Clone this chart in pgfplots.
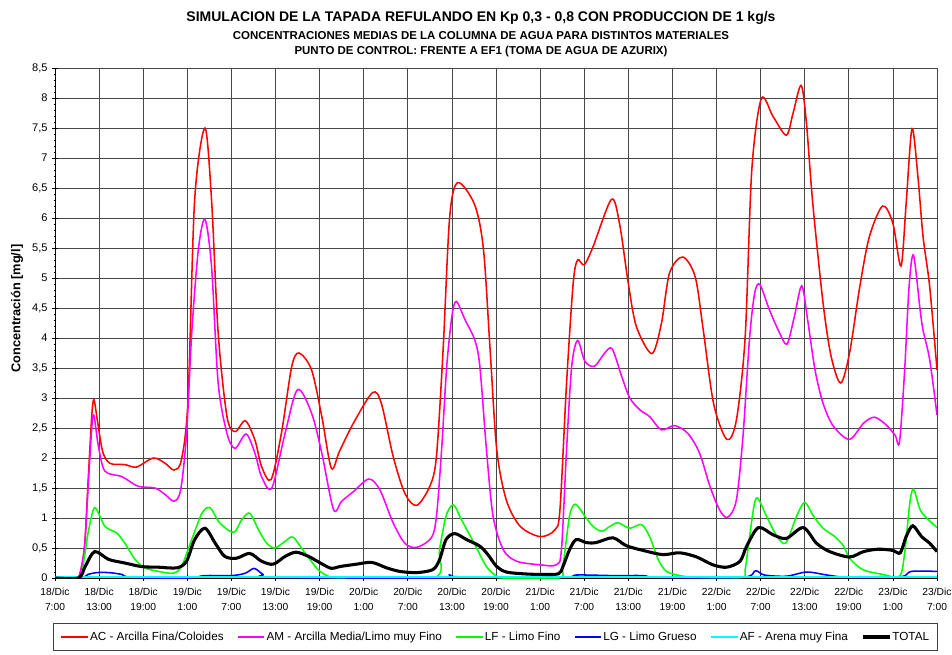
\documentclass[border=0pt]{standalone}
\usepackage{fontspec}
\setmainfont{Liberation Sans}
\usepackage{pgfplots}
\pgfplotsset{compat=1.18}
\definecolor{cAC}{RGB}{255,0,0}
\definecolor{cAM}{RGB}{255,0,255}
\definecolor{cLF}{RGB}{0,255,0}
\definecolor{cLG}{RGB}{0,0,255}
\definecolor{cAF}{RGB}{0,255,255}
\begin{document}
\begin{tikzpicture}
\useasboundingbox (0,0) rectangle (714pt,490.5pt);
\begin{axis}[
  at={(41.25pt,57pt)}, anchor=south west,
  scale only axis, width=661.5pt, height=382.5pt,
  xmin=0, xmax=120, ymin=0, ymax=8.5,
  axis x line*=bottom, axis y line*=left,
  axis line style={-, black, line width=0.6pt},
  xtick={0,6,...,120},
  ytick={0,0.5,1,1.5,2,2.5,3,3.5,4,4.5,5,5.5,6,6.5,7,7.5,8,8.5},
  minor x tick num=5, minor y tick num=4,
  tick align=center, major tick length=4pt, minor tick length=2pt,
  tick style={black, line width=0.5pt},
  grid=major, grid style={black!72, line width=0.6pt},
  xticklabels={{18/Dic\\7:00},{18/Dic\\13:00},{18/Dic\\19:00},{19/Dic\\1:00},{19/Dic\\7:00},{19/Dic\\13:00},{19/Dic\\19:00},{20/Dic\\1:00},{20/Dic\\7:00},{20/Dic\\13:00},{20/Dic\\19:00},{21/Dic\\1:00},{21/Dic\\7:00},{21/Dic\\13:00},{21/Dic\\19:00},{22/Dic\\1:00},{22/Dic\\7:00},{22/Dic\\13:00},{22/Dic\\19:00},{23/Dic\\1:00},{23/Dic\\7:00}},
  xticklabel style={align=center, font=\fontsize{7.7}{11}\selectfont, yshift=-2pt},
  yticklabel style={font=\fontsize{8.3}{10}\selectfont},
  /pgf/number format/.cd, use comma, assume math mode=true, /pgfplots/.cd,
  every axis y label/.style={at={(axis description cs:-0.0431,0.528)}, anchor=center, rotate=90},
  ylabel={\bfseries Concentración [mg/l]},
  ylabel style={font=\fontsize{9.6}{11}\selectfont},
  legend columns=6,
  legend style={at={(0.4994,-0.1157)}, anchor=center, draw=black!75, line width=0.6pt,
    font=\fontsize{8.8}{10}\selectfont,
    /tikz/every even column/.append style={column sep=9pt},
    inner xsep=5pt, inner ysep=4pt, nodes={inner xsep=1pt, inner ysep=2pt}},
  legend image code/.code={\draw[#1] (0pt,0pt) -- (20pt,0pt);},
]
% AC
\addplot[cAC, line width=1.15pt, smooth] table {
x y
0 0
2 0
3.2 0.01
4.0 0.5
4.5 1.6
5.0 2.7
5.3 2.97
5.8 2.6
6.5 2.1
7.5 1.91
9.5 1.89
11.1 1.85
13.4 2.0
15 1.91
16.2 1.80
17.2 1.97
18.1 2.97
19.0 6.3
20.4 7.5
21.3 6.3
22.2 4.08
23.4 2.69
24.5 2.44
25.9 2.62
27.2 2.30
28.1 1.86
29.4 1.64
30.8 2.41
32.2 3.52
33.2 3.75
34.9 3.47
36.3 2.69
37.6 1.83
38.7 2.11
40.6 2.58
43.2 3.09
44.4 2.91
46.0 2.03
47.6 1.41
49.2 1.21
51.0 1.53
51.9 2.03
52.8 3.80
53.7 6.02
54.8 6.59
57.1 6.22
58.3 5.47
59.2 3.80
60.1 2.14
61.4 1.30
63.3 0.86
66.0 0.69
68.0 0.80
68.7 1.14
69.6 3.25
70.5 4.91
71.1 5.30
72.0 5.22
73.2 5.52
75.7 6.31
76.8 5.91
78.0 4.91
79.1 4.19
81.2 3.74
82.5 4.24
83.6 5.08
85.4 5.35
87.1 5.02
88.2 4.13
89.6 2.91
91.4 2.31
92.7 2.63
93.9 4.02
94.8 6.80
96.1 7.99
97.7 7.69
99.5 7.38
100.4 7.74
101.5 8.21
102.2 7.63
103.1 6.24
104.5 4.58
105.6 3.69
106.9 3.25
108.1 3.75
109.5 4.86
110.8 5.69
112.6 6.20
114.0 5.91
115.1 5.20
115.8 6.24
116.6 7.49
117.4 6.69
118.1 5.69
119.0 4.86
120 3.47
};
\addlegendentry{AC - Arcilla Fina/Coloides}
% AM
\addplot[cAM, line width=1.15pt, smooth] table {
x y
0 0
3.0 0
3.3 0.02
4.0 0.5
4.5 1.5
5.0 2.5
5.3 2.71
5.9 2.2
6.8 1.78
9.1 1.69
11.3 1.53
13.6 1.50
15.0 1.39
16.2 1.28
17.1 1.47
17.9 2.41
18.6 4.08
19.5 5.47
20.4 5.98
21.3 5.19
22.2 3.25
23.4 2.41
24.5 2.16
26.0 2.40
27.2 2.08
28.1 1.69
29.5 1.50
31.3 2.41
33.0 3.14
34.9 2.75
36.3 2.08
37.9 1.14
39.0 1.28
40.6 1.44
42.7 1.65
44.2 1.47
46.0 0.92
47.6 0.58
49.2 0.51
51.2 0.67
51.9 1.03
52.6 2.14
53.3 3.53
54.0 4.36
54.6 4.61
55.8 4.30
57.1 3.97
57.8 3.53
58.7 2.14
59.6 1.03
61.0 0.47
62.8 0.28
66.0 0.22
68.2 0.22
68.9 0.47
69.6 2.14
70.3 3.53
71.1 3.96
72.1 3.61
73.4 3.53
74.8 3.75
75.8 3.82
77.1 3.36
78.2 3.0
79.6 2.80
80.9 2.69
82.5 2.47
84.3 2.54
86.1 2.41
87.7 2.08
89.1 1.53
90.4 1.14
91.5 1.01
92.7 1.30
93.6 2.36
94.5 4.0
95.2 4.75
95.9 4.89
97.2 4.47
98.6 4.08
99.6 3.90
100.6 4.36
101.6 4.87
102.4 4.30
103.4 3.47
104.5 2.91
105.9 2.53
108.1 2.31
110.0 2.58
111.5 2.68
113.1 2.55
114.3 2.38
114.9 2.27
115.6 3.47
116.2 4.86
116.8 5.38
117.7 4.47
118.1 4.13
119.0 3.64
120 2.72
};
\addlegendentry{AM - Arcilla Media/Limo muy Fino}
% LF
\addplot[cLF, line width=1.15pt, smooth] table {
x y
0 0
3.3 0
4.0 0.35
4.5 0.75
5.4 1.17
6.8 0.86
8.4 0.75
9.5 0.58
10.9 0.31
12.2 0.17
14.1 0.11
16.1 0.08
17.2 0.19
18.6 0.64
20.0 1.08
21.1 1.17
22.4 0.92
24.3 0.76
25.4 0.97
26.5 1.08
27.7 0.80
28.8 0.58
29.9 0.50
31.3 0.61
32.4 0.68
34.0 0.42
35.8 0.14
37.2 0.03
38.5 0
51.5 0
52.3 0.47
53.2 1.03
54.2 1.22
55.3 0.97
56.9 0.61
58.7 0.19
60.1 0.03
61 0
68.5 0
69.1 0.19
70.0 1.03
70.8 1.23
72.1 1.03
73.2 0.86
74.4 0.78
75.5 0.86
76.6 0.92
78.2 0.83
79.8 0.89
80.9 0.69
82.1 0.30
83.2 0.11
85.0 0.04
87.3 0.01
93.4 0.01
93.9 0.14
94.5 0.69
95.4 1.33
96.8 1.03
98.1 0.72
99.4 0.58
100.9 1.03
102.0 1.26
103.2 1.03
104.5 0.83
106.1 0.69
107.3 0.53
108.1 0.33
109.9 0.14
112.6 0.06
114.9 0.03
115.6 0.42
116.3 1.25
116.8 1.48
117.7 1.14
118.6 1.00
120 0.84
};
\addlegendentry{LF - Limo Fino}
% LG
\addplot[cLG, line width=1.15pt, smooth] table {
x y
0 0
3.5 0
4.5 0.06
5.7 0.09
7.3 0.09
9.1 0.06
10.4 0.01
18 0
20.4 0.04
24.0 0.04
25.9 0.08
27.1 0.16
28.3 0.06
29.5 0.01
52 0
53.7 0.05
55 0.02
69 0.01
71 0.05
76 0.04
80 0.04
82 0.01
93.5 0.01
95.3 0.12
96.5 0.05
99.5 0.03
102.3 0.10
105 0.05
108 0.01
115 0.02
116.5 0.11
120 0.11
};
\addlegendentry{LG - Limo Grueso}
% AF
\addplot[cAF, line width=1.4pt] table {
x y
0 0.01
30 0.01
60 0.01
90 0.01
120 0.01
};
\addlegendentry{AF - Arena muy Fina}
% TOTAL
\addplot[black, line width=2.3pt, smooth] table {
x y
0 0
3.2 0
4.1 0.19
5.4 0.44
7.3 0.31
9.5 0.25
11.8 0.19
14.1 0.18
16.6 0.17
17.9 0.28
19.0 0.64
20.4 0.83
21.8 0.58
23.1 0.36
24.7 0.33
26.5 0.41
28.1 0.28
29.7 0.23
31.3 0.36
32.8 0.43
34.5 0.36
36.1 0.25
37.6 0.16
38.7 0.19
41.0 0.23
43.1 0.26
45.1 0.17
46.9 0.11
49.2 0.09
51.4 0.14
52.3 0.30
53.2 0.64
54.4 0.74
56.0 0.64
57.8 0.53
58.9 0.39
60.1 0.19
61.4 0.10
63.7 0.07
66.0 0.06
68.5 0.07
69.1 0.19
70.0 0.47
70.9 0.64
72.3 0.59
73.6 0.59
75.9 0.67
77.7 0.54
80.0 0.46
82.7 0.39
85.0 0.42
87.3 0.35
89.5 0.22
91.4 0.18
93.2 0.28
94.1 0.53
95.7 0.84
97.7 0.72
99.5 0.66
101.8 0.84
103.6 0.58
105.4 0.44
108.1 0.35
110.0 0.44
112.0 0.48
114.0 0.46
115.0 0.42
115.8 0.69
116.7 0.87
117.9 0.69
119.0 0.58
120 0.44
};
\addlegendentry{TOTAL}
\end{axis}
\node[font=\bfseries\fontsize{10.5}{12}\selectfont] at (360.75pt,477pt) {SIMULACION DE LA TAPADA REFULANDO EN Kp 0,3 - 0,8 CON PRODUCCION DE 1 kg/s};
\node[font=\bfseries\fontsize{8.6}{10}\selectfont] at (360.75pt,463.5pt) {CONCENTRACIONES MEDIAS DE LA COLUMNA DE AGUA PARA DISTINTOS MATERIALES};
\node[font=\bfseries\fontsize{8.6}{10}\selectfont] at (360.75pt,451.5pt) {PUNTO DE CONTROL: FRENTE A EF1 (TOMA DE AGUA DE AZURIX)};
\end{tikzpicture}
\end{document}
